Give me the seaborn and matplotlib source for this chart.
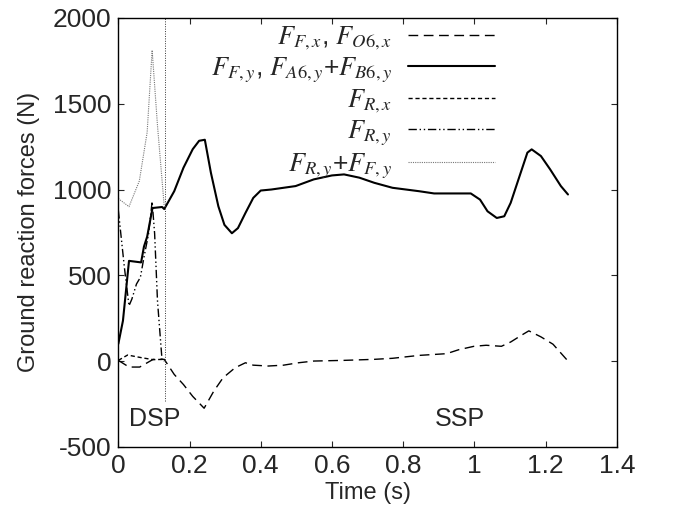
import matplotlib
matplotlib.use("Agg")
import matplotlib.pyplot as plt
import seaborn as sns
import pandas as pd

# Front foot horizontal force F_F,x (= F_O6,x)
t_ffx = [0, 0.030, 0.060, 0.098, 0.129, 0.157, 0.183, 0.209, 0.241, 0.268, 0.294,
         0.328, 0.357, 0.379, 0.421, 0.464, 0.506, 0.549, 0.634, 0.719, 0.77,
         0.845, 0.922, 0.956, 0.999, 1.033, 1.076, 1.102, 1.132, 1.153, 1.187,
         1.221, 1.263]
f_ffx = [4, -35, -35, 10, 10, -78, -137, -206, -275, -176, -98,
         -39, -10, -24, -29, -24, -10, 0, 4, 10, 16,
         33, 43, 66, 86, 92, 86, 111, 150, 176, 141,
         98, 0]

# Front foot vertical force F_F,y (= F_A6,y + F_B6,y)
t_ffy = [0, 0.013, 0.030, 0.064, 0.072, 0.081, 0.096, 0.123, 0.129, 0.136, 0.157,
         0.183, 0.209, 0.227, 0.243, 0.260, 0.281, 0.298, 0.319, 0.336, 0.357,
         0.379, 0.400, 0.430, 0.498, 0.549, 0.600, 0.634, 0.677, 0.719, 0.77,
         0.845, 0.887, 0.990, 1.016, 1.037, 1.063, 1.084, 1.102, 1.127, 1.149,
         1.161, 1.187, 1.213, 1.243, 1.263]
f_ffy = [100, 235, 584, 575, 667, 725, 892, 898, 886, 912, 990,
         1127, 1235, 1284, 1290, 1098, 902, 794, 745, 775, 863,
         951, 994, 1000, 1020, 1059, 1082, 1088, 1069, 1039, 1010,
         990, 977, 977, 941, 873, 834, 844, 922, 1078, 1215,
         1234, 1195, 1117, 1020, 971]

# Rear foot horizontal force F_R,x
t_frx = [0, 0.026, 0.064, 0.098, 0.129]
f_frx = [4, 35, 20, 8, 10]

# Rear foot vertical force F_R,y
t_fry = [0, 0.017, 0.030, 0.038, 0.051, 0.062, 0.072, 0.085, 0.095, 0.102,
         0.110, 0.123, 0.129]
f_fry = [879, 547, 322, 361, 449, 488, 605, 742, 930, 742,
         351, 0, 0]

# Total vertical force F_R,y + F_F,y during double support
t_tot = [0, 0.030, 0.059, 0.081, 0.095, 0.110, 0.129]
f_tot = [947, 900, 1050, 1334, 1812, 1373, 900]

# End of double support phase
t_dsp = 0.13
dsp_span = [-230, 2000]

labels = [r"$F_{F,x}$, $F_{O6,x}$",
          r"$F_{F,y}$, $F_{A6,y}$+$F_{B6,y}$",
          r"$F_{R,x}$",
          r"$F_{R,y}$",
          r"$F_{R,y}$+$F_{F,y}$"]

sns.set_style("ticks")
plt.rcParams["font.family"] = ["Liberation Sans", "DejaVu Sans"]
plt.rcParams["mathtext.fontset"] = "stix"
plt.rcParams["axes.unicode_minus"] = False
plt.rcParams["xtick.direction"] = "in"
plt.rcParams["ytick.direction"] = "in"

fig = plt.figure(figsize=(6.8, 5.13), dpi=100)
ax = fig.add_axes([0.174, 0.129, 0.733, 0.836])

series = [
    (t_ffx, f_ffx, dict(color="black", lw=1.0, dashes=(7, 4))),
    (t_ffy, f_ffy, dict(color="black", lw=1.5)),
    (t_frx, f_frx, dict(color="black", lw=1.0, dashes=(3, 2))),
    (t_fry, f_fry, dict(color="black", lw=1.0, dashes=(6, 2, 1, 2, 1, 2))),
    (t_tot, f_tot, dict(color="#777777", lw=0.8, dashes=(1, 1))),
]
handles = []
for (t, f, style), lab in zip(series, labels):
    df = pd.DataFrame({"t": t, "f": f})
    sns.lineplot(data=df, x="t", y="f", ax=ax, estimator=None, sort=False,
                 label=lab, legend=False, **style)
    handles.append(ax.get_lines()[-1])

ax.plot([t_dsp, t_dsp], dsp_span, color="#333333", lw=0.7, dashes=(1, 1.5))

ax.set_xlim(0, 1.4)
ax.set_ylim(-500, 2000)
ax.set_xticks([0, 0.2, 0.4, 0.6, 0.8, 1.0, 1.2, 1.4])
ax.set_xticklabels(["0", "0.2", "0.4", "0.6", "0.8", "1", "1.2", "1.4"])
ax.set_yticks([-500, 0, 500, 1000, 1500, 2000])
ax.tick_params(labelsize=19, top=True, right=True, length=4, width=0.8, pad=5)
for s in ax.spines.values():
    s.set_linewidth(1.0)
    s.set_color("black")

ax.set_xlabel("Time (s)", fontsize=17, labelpad=3)
ax.set_ylabel("Ground reaction forces (N)", fontsize=17, labelpad=9)

ax.text(0.03, -340, "DSP", fontsize=18, va="center", ha="left")
ax.text(0.89, -340, "SSP", fontsize=18, va="center", ha="left")

leg = ax.legend(handles, labels, loc="upper right", bbox_to_anchor=(0.755, 0.985),
                frameon=False, markerfirst=False, fontsize=19, handlelength=3.3,
                labelspacing=0.12, handletextpad=0.6, borderaxespad=0, borderpad=0)

fig.savefig("out.png", dpi=100)
